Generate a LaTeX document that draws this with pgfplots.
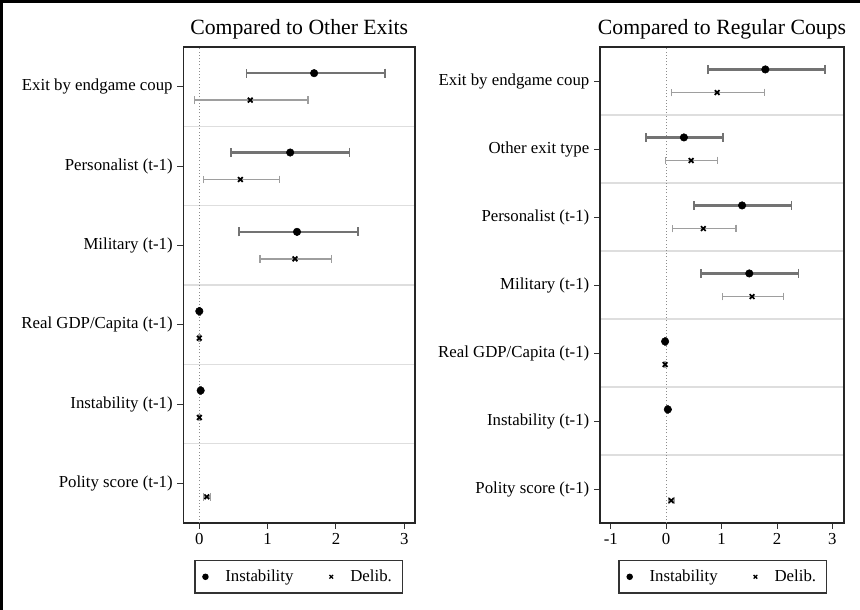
\documentclass[border=0pt]{standalone}
\usepackage{fontspec}
\setmainfont{Liberation Serif}
\usepackage{pgfplots}
\usepackage{pgfplotstable}
\pgfplotsset{compat=1.18}

% left panel: Compared to Other Exits (y: 5=Exit ... 0=Polity)
\pgfplotstableread{
x     y     em    ep
1.68  5.17  0.99  1.04
1.33  4.17  0.87  0.87
1.43  3.17  0.85  0.89
0.00  2.17  0.01  0.01
0.02  1.17  0.01  0.01
}\leftinst
\pgfplotstableread{
x     y     em    ep
0.745 4.83  0.815 0.845
0.60  3.83  0.54  0.57
1.40  2.83  0.51  0.53
0.00  1.83  0.01  0.01
0.00  0.83  0.01  0.01
0.11  -0.17 0.05  0.05
}\leftdelib
% right panel: Compared to Regular Coups (y: 6=Exit ... 0=Polity)
\pgfplotstableread{
x     y     em    ep
1.79  6.17  1.03  1.08
0.32  5.17  0.69  0.70
1.37  4.17  0.87  0.89
1.50  3.17  0.87  0.89
-0.02 2.17  0.01  0.01
0.03  1.17  0.01  0.01
}\rightinst
\pgfplotstableread{
x     y     em    ep
0.92  5.83  0.82  0.85
0.45  4.83  0.46  0.48
0.67  3.83  0.56  0.59
1.55  2.83  0.53  0.57
-0.02 1.83  0.01  0.01
0.09  -0.17 0.05  0.05
}\rightdelib

\pgfplotsset{
  coefstyle/.style={
    scale only axis,
    tick align=outside, tick pos=left,
    major tick length=4.5pt,
    axis line style={line width=1.2pt, black!85},
    every tick/.style={line width=0.7pt, black!80},
    ymin=-0.5,
    yminorgrids, minor tick length=0pt,
    minor grid style={line width=0.9pt, black!13},
    ticklabel style={font=\fontsize{12.6}{14}\selectfont},
    /pgf/number format/assume math mode=true,
    title style={font=\fontsize{16.3}{18}\selectfont, anchor=south, at={(0.5,1)}, yshift=-4pt},
    legend columns=2,
    legend style={anchor=center, draw=black!80, line width=1pt,
      font=\fontsize{12.6}{14}\selectfont,
      /tikz/every odd column/.append style={column sep=11pt},
      /tikz/every even column/.append style={column sep=25pt},
      inner xsep=6pt, inner ysep=5pt},
  },
  inst/.style={forget plot, only marks, mark=*, mark size=2.8pt,
    mark options={fill=black, draw=black},
    error bars/.cd, x dir=both, x explicit,
    error bar style={line width=1.6pt, draw=black!55},
    error mark options={rotate=90, line width=1.3pt, mark size=3.4pt, draw=black!55},
    /pgfplots/.cd},
  delib/.style={forget plot, only marks, mark=x, mark size=2.5pt,
    mark options={draw=black, line width=1.3pt},
    error bars/.cd, x dir=both, x explicit,
    error bar style={line width=1.1pt, draw=black!38},
    error mark options={rotate=90, line width=1.0pt, mark size=2.9pt, draw=black!38},
    /pgfplots/.cd},
  zeroline/.style={forget plot, no marks, black!45, line width=0.8pt, dash pattern=on 0.8pt off 1.6pt},
}

\begin{document}
\begin{tikzpicture}
\useasboundingbox (0,0) rectangle (645pt,457.5pt);
\fill[white] (0,0) rectangle (645pt,457.5pt);

\begin{axis}[coefstyle,
  at={(137.5pt,65.25pt)}, anchor=south west,
  width=173.8pt, height=357pt,
  xmin=-0.234, xmax=3.158, ymax=5.5,
  xtick={0,1,2,3},
  ytick={0,1,2,3,4,5},
  yticklabels={Polity score (t-1), Instability (t-1), Real GDP/Capita (t-1), Military (t-1), Personalist (t-1), Exit by endgame coup},
  minor ytick={0.5,1.5,2.5,3.5,4.5},
  title={Compared to Other Exits},
  legend style={at={(0.498,-0.113)}},
]
\addplot[zeroline] coordinates {(0,-0.5) (0,5.5)};
\addplot[delib] table[x=x, y=y, x error minus=em, x error plus=ep] {\leftdelib};
\addplot[inst] table[x=x, y=y, x error minus=em, x error plus=ep] {\leftinst};
\addlegendimage{only marks, mark=*, mark size=1.9pt, black}
\addlegendentry{Instability}
\addlegendimage{only marks, mark=x, mark size=1.9pt, black, line width=1pt}
\addlegendentry{Delib.}
\end{axis}

\begin{axis}[coefstyle,
  at={(450pt,65.25pt)}, anchor=south west,
  width=183pt, height=357pt,
  xmin=-1.195, xmax=3.21, ymax=6.5,
  xtick={-1,0,1,2,3},
  ytick={0,1,2,3,4,5,6},
  yticklabels={Polity score (t-1), Instability (t-1), Real GDP/Capita (t-1), Military (t-1), Personalist (t-1), Other exit type, Exit by endgame coup},
  minor ytick={0.5,1.5,2.5,3.5,4.5,5.5},
  title={Compared to Regular Coups},
  legend style={at={(0.504,-0.113)}},
]
\addplot[zeroline] coordinates {(0,-0.5) (0,6.5)};
\addplot[delib] table[x=x, y=y, x error minus=em, x error plus=ep] {\rightdelib};
\addplot[inst] table[x=x, y=y, x error minus=em, x error plus=ep] {\rightinst};
\addlegendimage{only marks, mark=*, mark size=1.9pt, black}
\addlegendentry{Instability}
\addlegendimage{only marks, mark=x, mark size=1.9pt, black, line width=1pt}
\addlegendentry{Delib.}
\end{axis}

\draw[line width=2pt, black] (1pt,0) -- (1pt,456.5pt) -- (645pt,456.5pt);
\end{tikzpicture}
\end{document}
